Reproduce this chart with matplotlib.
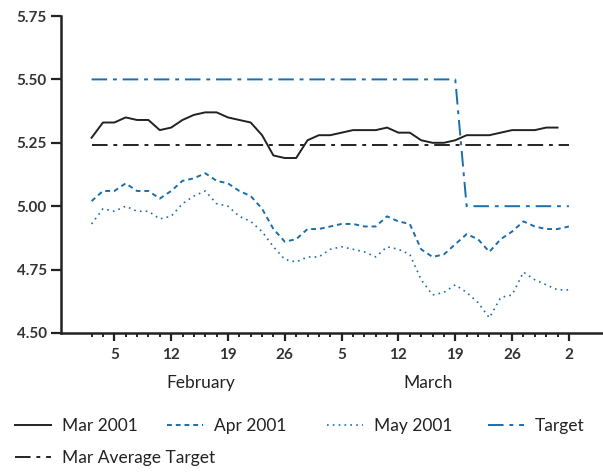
import pandas as pd
import matplotlib
matplotlib.use("Agg")
import matplotlib.pyplot as plt
from matplotlib.ticker import FixedLocator

# --- Data (business days, 1 Feb 2001 .. 2 Apr 2001) ---
dates = pd.bdate_range("2001-02-01", "2001-04-02")

mar_2001 = [5.27, 5.33, 5.33, 5.35, 5.34, 5.34, 5.30, 5.31, 5.34, 5.36,
            5.37, 5.37, 5.35, 5.34, 5.33, 5.28, 5.20, 5.19, 5.19, 5.26,
            5.28, 5.28, 5.29, 5.30, 5.30, 5.30, 5.31, 5.29, 5.29, 5.26,
            5.25, 5.25, 5.26, 5.28, 5.28, 5.28, 5.29, 5.30, 5.30, 5.30,
            5.31, 5.31]
apr_2001 = [5.02, 5.06, 5.06, 5.09, 5.06, 5.06, 5.03, 5.06, 5.10, 5.11,
            5.13, 5.10, 5.09, 5.06, 5.04, 4.99, 4.91, 4.86, 4.87, 4.91,
            4.91, 4.92, 4.93, 4.93, 4.92, 4.92, 4.96, 4.94, 4.93, 4.83,
            4.80, 4.81, 4.85, 4.89, 4.87, 4.82, 4.87, 4.90, 4.94, 4.92,
            4.91, 4.91, 4.92]
may_2001 = [4.93, 4.99, 4.98, 5.00, 4.98, 4.98, 4.95, 4.96, 5.01, 5.04,
            5.06, 5.01, 5.00, 4.96, 4.94, 4.90, 4.84, 4.79, 4.78, 4.80,
            4.80, 4.83, 4.84, 4.83, 4.82, 4.80, 4.84, 4.83, 4.81, 4.71,
            4.65, 4.66, 4.69, 4.66, 4.62, 4.56, 4.64, 4.65, 4.74, 4.71,
            4.69, 4.67, 4.67]
target = [5.50] * 33 + [5.00] * 10
mar_avg_target = [5.24] * 43

BLUE = '#1a6ead'
DARK = '#222222'
FONT = 'Lato'
idx = list(range(len(dates)))

fig = plt.figure(figsize=(6.03, 4.72), dpi=100)
ax = fig.add_axes([0.101, 0.2945, 0.899, 0.6716])

ax.plot(idx[:len(mar_2001)], mar_2001, color=DARK, lw=1.4, label='Mar 2001')
ax.plot(idx, apr_2001, color=BLUE, lw=1.4, ls=(0, (2.5, 2)), label='Apr 2001')
ax.plot(idx, may_2001, color=BLUE, lw=1.2, ls=(0, (1, 2.5)), label='May 2001')
ax.plot(idx, target, color=BLUE, lw=1.4, ls=(0, (8, 3, 2, 3)), label='Target')
ax.plot(idx, mar_avg_target, color=DARK, lw=1.4, ls=(0, (8, 3, 2, 3)),
        label='Mar Average Target')

# --- Axes styling ---
ax.set_xlim(-2.7, 45)
ax.set_ylim(4.5, 5.75)
ax.spines['top'].set_visible(False)
ax.spines['right'].set_visible(False)
for s in ('left', 'bottom'):
    ax.spines[s].set_linewidth(1.8)
    ax.spines[s].set_color(DARK)

ax.set_yticks([4.50, 4.75, 5.00, 5.25, 5.50, 5.75])
ax.set_yticklabels(['4.50', '4.75', '5.00', '5.25', '5.50', '5.75'])

mondays = [i for i, d in enumerate(dates) if d.weekday() == 0]
ax.xaxis.set_major_locator(FixedLocator(mondays))
ax.set_xticklabels([str(dates[i].day) for i in mondays])
ax.xaxis.set_minor_locator(FixedLocator(idx))

for lab in ax.get_xticklabels() + ax.get_yticklabels():
    lab.set_fontfamily(FONT)
    lab.set_fontweight('bold')
    lab.set_fontsize(11)
    lab.set_color('#333333')

ax.tick_params(axis='y', which='major', length=7, width=1.6, pad=3, color=DARK)
ax.tick_params(axis='x', which='major', length=6, width=1.6, pad=5, color=DARK)
ax.tick_params(axis='x', which='minor', length=3, width=1.4, color=DARK)

# month labels
trans = ax.get_xaxis_transform()
ax.text(9.6, -0.157, 'February', transform=trans, ha='center', va='center',
        fontsize=12.5, family=FONT, color=DARK)
ax.text(29.6, -0.157, 'March', transform=trans, ha='center', va='center',
        fontsize=12.5, family=FONT, color=DARK)

# --- Legend: one entry each, placed like the original ---
handles, labels = ax.get_legend_handles_labels()
W, H = 603.0, 472.0
legend_pos = [(15, 426), (167, 426), (327, 426), (488, 426), (15, 458)]
for h, l, (px, py) in zip(handles, labels, legend_pos):
    leg = fig.legend([h], [l], loc='center left',
                     bbox_to_anchor=(px / W, 1 - py / H),
                     frameon=False, borderpad=0, borderaxespad=0,
                     handlelength=2.07, handletextpad=0.63,
                     prop=dict(family=FONT, size=12.5))
    for t in leg.get_texts():
        t.set_color(DARK)

fig.savefig('out.png', dpi=100)
